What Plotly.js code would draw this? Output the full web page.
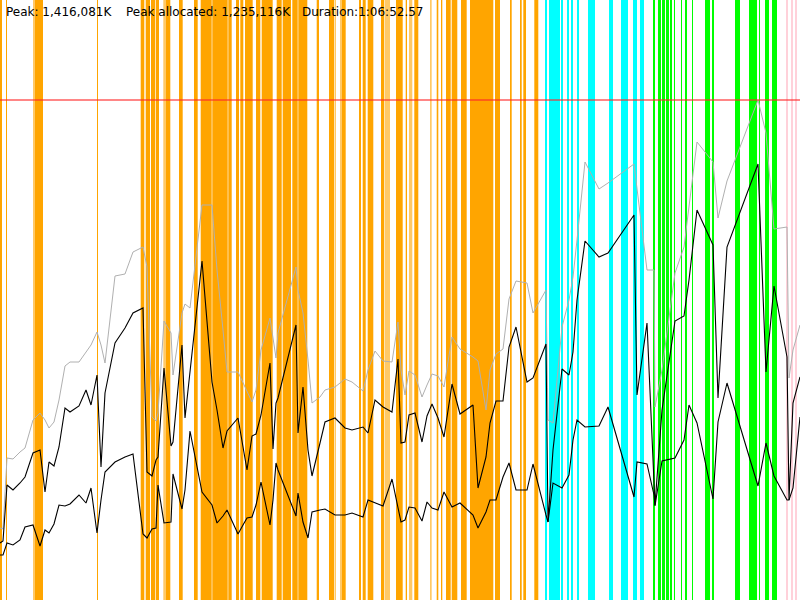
<!DOCTYPE html>
<html>
<head>
<meta charset="utf-8">
<script src="https://cdn.plot.ly/plotly-3.0.1.min.js"></script>
<style>html,body{margin:0;padding:0;background:#fff;}#chart{width:800px;height:600px;}</style>
</head>
<body>
<div id="chart"></div>
<script>
// Time axis (sample units across the run) and memory series in % of peak
const sampleTimes = [0,3,7,13,20,25,33,40,45,49,
 54,59,65,70,79,86,91,97,101,105,
 115,125,133,143,147,152,156,158,164,171,
 173,182,185,190,202,212,217,223,227,238,
 243,247,252,256,261,270,273,276,278,296,
 298,303,308,312,320,325,335,345,352,363,
 368,375,383,392,398,401,405,409,415,422,
 427,432,438,444,452,460,473,478,486,490,
 496,503,509,516,527,533,546,548,553,562,
 569,573,577,585,599,608,634,637,647,654,
 655,662,675,684,689,697,713,718,727,758,
 766,774,787,789,793,800];

const peakSeries = [14.4,14.2,28.4,28.2,29.6,30.4,36,37.4,36,34.4,
 35.6,40,46.8,47.6,47.6,49.6,51,53.6,51,47.4,
 64.8,65.2,69.6,70.6,66.6,36.6,35.8,37.4,55.8,53.4,
 45,57.4,59.2,58.4,79,79,66,54,45.6,45.6,
 43.4,41.6,39.6,42,50,56.4,52,48.4,53.4,66.6,
 62,57.4,48,39.4,40.6,42,42.6,44.2,43.6,41.8,
 46,49.8,47.8,47.6,55.6,46,41,45.8,45,40.6,
 43,45.2,44.8,42.6,52.6,50.2,48.6,47.8,38,46,
 49.2,50.2,60.2,63.8,63.4,57.4,62,36,35.4,54.6,
 60,64.6,72,87.6,82.2,83.4,87.2,82.4,66,66,
 38.6,46,65.4,70.6,79,91.6,87.6,76.4,83.8,100,
 93.4,74.2,74.6,44.4,50,55];

const allocatedSeries = [11.4,11.8,23,22,23.4,24.6,29.4,30,21.6,27.6,
 26.8,30.6,38.4,37.6,38.8,42,39,45,26.6,41.4,
 51.4,54.4,57.4,58.4,25.6,24.8,28,28.6,46.4,30.8,
 31.6,51,36.4,45.6,67.8,43.6,38,30.4,33.8,36.4,
 31,26,32.8,33.2,37,47.4,30.2,39.4,40.4,55,
 33.4,42.6,30,24.8,31.4,35.6,36.4,34.4,34,34.6,
 33.4,40,38.6,37.6,48.2,31.4,31.6,37,37.4,31.6,
 36.8,39.2,36.4,32.6,43.2,37.2,39,22.4,28.6,35.4,
 39.8,39.8,50.6,54.6,43.6,44.4,51.2,15.6,30,46.2,
 45,49.6,60,71.8,68.6,69.4,77,41,55.4,23.6,
 19,38,55.8,56.8,64,78,71,40.4,70.6,87.2,
 45.6,62.8,48.6,20,39.4,44.6];

const lowerSeries = [9,9,11.4,11,12,14.6,15,10.8,14,13.4,
 15.2,19,18.8,19.2,21,19.4,22.4,13.4,20,25.6,
 27.6,28.6,29.2,13.2,12.4,14.2,14.4,23,15.4,15.6,
 25.2,18.2,22,33.8,21.6,19,15.4,16.8,18,13.2,
 15,16.4,16.6,19,23.6,15,20,27.4,26,16.8,
 21.4,15.6,12.4,17.6,18,18.2,17,17,17.4,16.6,
 20,19.4,18.8,24.2,18,15.6,16,18.6,18.4,15.8,
 19.6,18.4,18,21.6,18.6,19.4,17,14.4,17.6,20,
 20,24.6,27.4,22,22,27.2,17,15.6,23.4,22.4,
 25,32,36,34.6,34.8,38.6,20.6,27.6,27.2,21,
 18.8,27.8,28.4,32,39,35.4,20.2,35.6,43.4,22.8,
 31.4,24.8,20,20,22.4,36.6];

// Event phases as [start, end] spans on the same time axis
const orangeSpans = [[0,2],[6,7],[35,43],[97,98],[140.7,144.3],[145.7,150],[151,155],[155.7,159],[165.7,170.3],[179,182.7],
 [194,197.7],[200.7,211.7],[212.3,227.7],[228.3,231.7],[236,239],[240.3,243.3],[245,252.7],[256,260.3],[261.7,272.7],[276.7,281.7],
 [282.7,291],[292.3,297.7],[298.3,307.3],[316.7,319],[329,334.3],[342,345.7],[359,361],[362.7,365.7],[367.7,373.3],[381,384.3],
 [396,402.7],[405.7,407],[414.3,418.3],[436.7,438.3],[441,442.3],[446,450.7],[451.7,457.3],[461,466.7],[470,493.3],[495,500],
 [510,511.7],[520,521.7],[523.3,526],[534.3,538.3]];
const lightOrangeSpans = [[33,35],[163.3,165.7],[335,336],[340,342],[385,390],[409,412.3],[430,431.7]];
const cyanSpans = [[545,547],[549,560],[561,563],[567,569],[571,573],[577,579],[588,595],[609,613],[621,628],[633,637],[640,644]];
const greenSpans = [[653,655],[658,661],[662,665],[666,669],[670,672],[674,675],[681,682],[685,687],[692,693],
 [705,710],[712,714],[735,740],[749,757],[759,760],[765,769],[772,777]];
const pinkSpans = [[786,788],[791,793],[795,797]];

const peakPercent = 100;
const axisTop = 120;
const summaryTexts = ["Peak: 1,416,081K", "Peak allocated: 1,235,116K", "Duration:1:06:52.57"];
const summaryPositions = [4, 124, 300];

function spanShapes(spans, color) {
  return spans.map(s => ({
    type: 'rect', xref: 'x', yref: 'y', x0: s[0], x1: s[1], y0: 0, y1: axisTop,
    fillcolor: color, line: {width: 0}, layer: 'below'
  }));
}

const shapes = [].concat(
  spanShapes(lightOrangeSpans, 'rgba(255,165,0,0.6)'),
  spanShapes(orangeSpans, '#FFA500'),
  spanShapes(cyanSpans, '#00FFFF'),
  spanShapes(greenSpans, '#00FF00'),
  spanShapes(pinkSpans, '#FFD1DA'),
  [{type: 'line', xref: 'paper', x0: 0, x1: 1, yref: 'y', y0: peakPercent, y1: peakPercent,
    line: {color: 'rgba(255,40,40,0.75)', width: 1.5}, layer: 'above'}]
);

const traces = [
  {type: 'scatter', mode: 'lines', x: sampleTimes, y: peakSeries, line: {color: '#b0b0b0', width: 1}},
  {type: 'scatter', mode: 'lines', x: sampleTimes, y: allocatedSeries, line: {color: '#000000', width: 1.1}},
  {type: 'scatter', mode: 'lines', x: sampleTimes, y: lowerSeries, line: {color: '#000000', width: 1.1}}
];

const layout = {
  width: 800, height: 600,
  margin: {l: 0, r: 0, t: 0, b: 0, pad: 0},
  paper_bgcolor: '#ffffff', plot_bgcolor: 'rgba(0,0,0,0)',
  showlegend: false,
  xaxis: {range: [0, 800], visible: false, fixedrange: true},
  yaxis: {range: [0, axisTop], visible: false, fixedrange: true},
  shapes: shapes,
  annotations: summaryTexts.map((t, i) => ({
    text: t, xref: 'paper', yref: 'paper', x: summaryPositions[i] / 800, y: 1 - 12 / 600,
    xanchor: 'left', yanchor: 'middle', showarrow: false,
    font: {family: 'DejaVu Sans, sans-serif', size: 12, color: '#000000'}
  }))
};

Plotly.newPlot('chart', traces, layout, {staticPlot: true, displayModeBar: false});
</script>
</body>
</html>
